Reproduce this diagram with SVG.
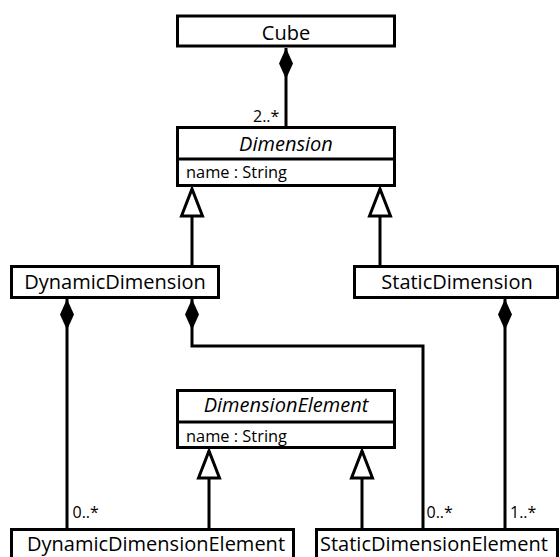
<svg xmlns="http://www.w3.org/2000/svg" width="560" height="557" viewBox="0 0 560 557">
  <style>
    .box { fill: #ffffff; stroke: #000000; stroke-width: 3; }
    .div { stroke: #000000; stroke-width: 3; }
    .name { font-family: "Open Sans", "Liberation Sans", sans-serif; font-size: 20px; fill: #000000; text-anchor: middle; }
    .abs { font-style: italic; }
    .attr { font-family: "Open Sans", "Liberation Sans", sans-serif; font-size: 16.4px; fill: #000000; }
    .mult { font-family: "Open Sans", "Liberation Sans", sans-serif; font-size: 16px; fill: #000000; }
    .conn { fill: none; stroke: #000000; stroke-width: 3; }
    .comp { marker-start: url(#diamond); }
    .gen { marker-end: url(#triangle); }
  </style>
  <defs>
    <marker id="diamond" markerUnits="userSpaceOnUse" orient="auto" refX="0" refY="0" markerWidth="40" markerHeight="20" overflow="visible">
      <path d="M0,0 L15.5,-7 L31,0 L15.5,7 Z" fill="#000000" stroke="none"/>
    </marker>
    <marker id="triangle" markerUnits="userSpaceOnUse" orient="auto" refX="27" refY="0" markerWidth="40" markerHeight="30" overflow="visible">
      <path d="M0,-10.5 L27,0 L0,10.5 Z" fill="#ffffff" stroke="#000000" stroke-width="3" stroke-linejoin="miter"/>
    </marker>
  </defs>
  <rect width="560" height="557" fill="#ffffff"/>

  <g id="connectors">
    <path class="conn comp" d="M286,48 L286,127"/>
    <path class="conn gen" d="M192,266 L192,189"/>
    <path class="conn gen" d="M380,266 L380,189"/>
    <path class="conn comp" d="M67,299 L67,529"/>
    <path class="conn comp" d="M192,299 L192,346 L423,346 L423,529"/>
    <path class="conn comp" d="M505,299 L505,529"/>
    <path class="conn gen" d="M209,529 L209,451"/>
    <path class="conn gen" d="M362,529 L362,451"/>
    <text class="mult" x="253" y="121.5">2..*</text>
    <text class="mult" x="72.5" y="518">0..*</text>
    <text class="mult" x="426.5" y="518">0..*</text>
    <text class="mult" x="510" y="518">1..*</text>
  </g>

  <g id="cube">
    <rect class="box" x="177.5" y="16" width="217" height="30"/>
    <text class="name" x="286" y="40">Cube</text>
  </g>

  <g id="dimension">
    <rect class="box" x="177.5" y="127.5" width="217" height="58"/>
    <line class="div" x1="177.5" y1="159" x2="394.5" y2="159"/>
    <text class="name abs" x="286" y="150.5">Dimension</text>
    <text class="attr" x="186" y="178">name : String</text>
  </g>

  <g id="dynamicDimension">
    <rect class="box" x="11.5" y="266.5" width="207" height="31"/>
    <text class="name" x="115" y="289">DynamicDimension</text>
  </g>

  <g id="staticDimension">
    <rect class="box" x="354.5" y="266.5" width="203" height="31"/>
    <text class="name" x="457" y="289">StaticDimension</text>
  </g>

  <g id="dimensionElement">
    <rect class="box" x="177.5" y="390.5" width="217" height="57"/>
    <line class="div" x1="177.5" y1="422" x2="394.5" y2="422"/>
    <text class="name abs" x="286" y="412">DimensionElement</text>
    <text class="attr" x="186" y="441.5">name : String</text>
  </g>

  <g id="dynamicDimensionElement">
    <rect class="box" x="11.5" y="529.5" width="282" height="40"/>
    <text class="name" x="156" y="551">DynamicDimensionElement</text>
  </g>

  <g id="staticDimensionElement">
    <rect class="box" x="316.5" y="529.5" width="241" height="40"/>
    <text class="name" x="434" y="551">StaticDimensionElement</text>
  </g>
</svg>
